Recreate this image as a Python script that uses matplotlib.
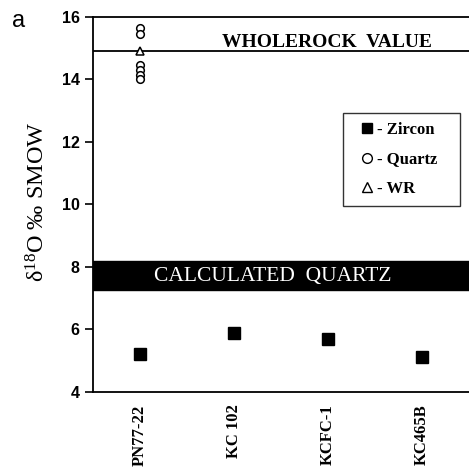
import matplotlib.pyplot as plt
from matplotlib.lines import Line2D

samples = ['PN77-22', 'KC 102', 'KCFC-1', 'KC465B']
zircon = [5.22, 5.89, 5.70, 5.13]
quartz_pn = [15.65, 15.44, 14.46, 14.30, 14.15, 14.02]
wr_pn = 14.9
wholerock_value = 14.9
calc_quartz = (7.25, 8.2)

serif = 'Liberation Serif'
sans = 'Liberation Sans'
plt.rcParams['mathtext.fontset'] = 'custom'
plt.rcParams['mathtext.rm'] = serif
plt.rcParams['mathtext.it'] = serif + ':italic'
plt.rcParams['mathtext.bf'] = serif + ':bold'

fig = plt.figure(figsize=(4.69, 4.70), dpi=100)
ax = fig.add_axes([0.198, 0.166, 0.802, 0.798])

x = list(range(len(samples)))

# calculated quartz band and wholerock line
ax.axhspan(calc_quartz[0], calc_quartz[1], color='black', zorder=1)
ax.text(1.41, sum(calc_quartz) / 2 - 0.03, 'CALCULATED  QUARTZ', color='white',
        family=serif, fontsize=15.5, ha='center', va='center', zorder=2)
ax.axhline(wholerock_value, color='black', linewidth=1.3, zorder=1)
ax.text(1.99, wholerock_value + 0.02, 'WHOLEROCK  VALUE', family=serif,
        fontweight='bold', fontsize=14, ha='center', va='bottom')

ax.plot(x, zircon, 's', color='black', markersize=9, linestyle='none', zorder=3)
ax.plot([0] * len(quartz_pn), quartz_pn, 'o', markerfacecolor='white',
        markeredgecolor='black', markersize=5.5, markeredgewidth=1.1,
        linestyle='none', zorder=3)
ax.plot([0], [wr_pn], '^', markerfacecolor='white', markeredgecolor='black',
        markersize=6, markeredgewidth=1.1, linestyle='none', zorder=4)

handles = [
    Line2D([], [], marker='s', color='black', linestyle='none', markersize=7),
    Line2D([], [], marker='o', markerfacecolor='white', markeredgecolor='black',
           linestyle='none', markersize=7),
    Line2D([], [], marker='^', markerfacecolor='white', markeredgecolor='black',
           linestyle='none', markersize=7),
]
leg = ax.legend(handles, ['- Zircon', '- Quartz', '- WR'],
                loc='upper left', bbox_to_anchor=(0.665, 0.493, 0.311, 0.251),
                mode='expand', fancybox=False, edgecolor='black',
                handlelength=1.76, handletextpad=-0.28, labelspacing=0.8,
                borderpad=0.55, borderaxespad=0,
                prop={'family': serif, 'weight': 'bold', 'size': 12})
leg.get_frame().set_linewidth(1.0)

ax.set_xlim(-0.5, 3.5)
ax.set_ylim(4, 16)
ax.set_yticks(range(4, 17, 2))
ax.set_xticks(x)
ax.set_xticklabels(samples, rotation=90, family=serif, fontweight='bold', fontsize=12)
for lbl in ax.get_yticklabels():
    lbl.set_family(sans)
    lbl.set_fontweight('bold')
    lbl.set_fontsize(11.5)
ax.tick_params(direction='out', length=6, width=1.2, color='black')
ax.tick_params(axis='x', length=0, pad=9)
for s in ['left', 'top', 'bottom']:
    ax.spines[s].set_linewidth(1.3)
ax.spines['right'].set_visible(False)

ax.set_ylabel(r'δ$^{18}$O ‰ SMOW', family=serif, fontsize=17.5)
ax.yaxis.set_label_coords(-0.114, 0.507)

fig.text(0.026, 0.955, 'a', family=sans, fontsize=17, ha='left', va='center')

fig.savefig('out.png', dpi=100)
